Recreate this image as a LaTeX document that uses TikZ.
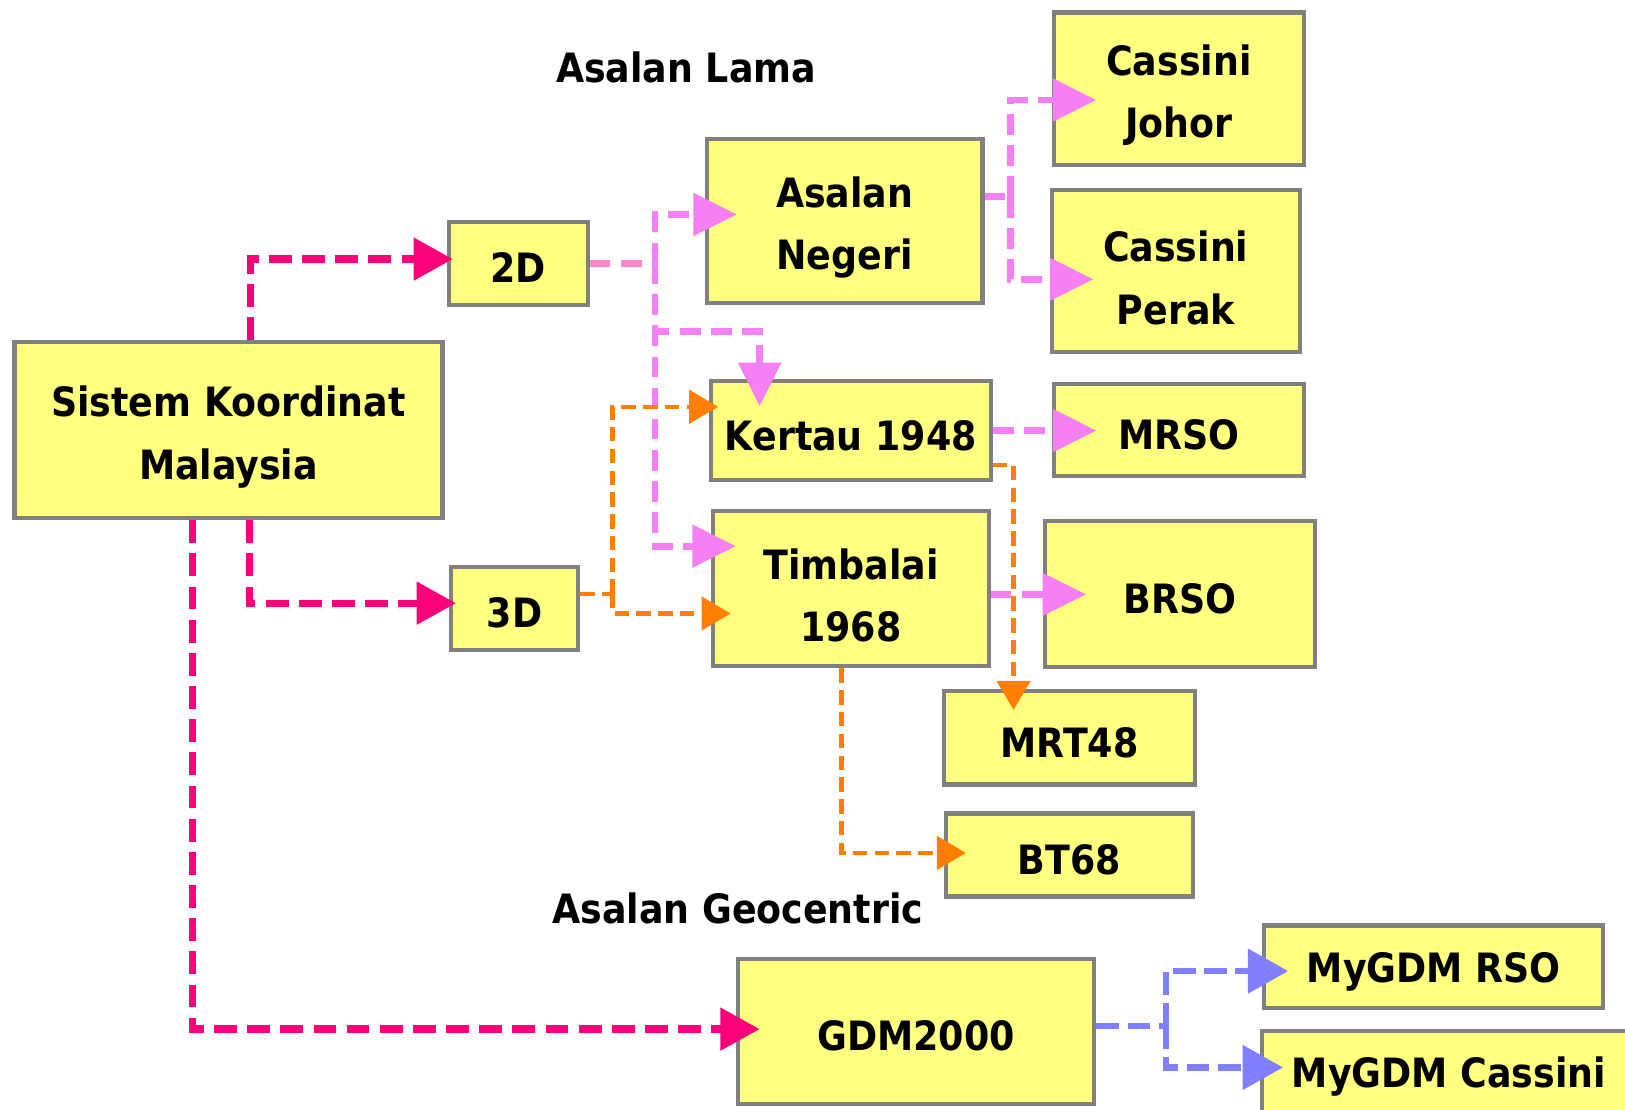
\documentclass[tikz,border=0pt]{standalone}
\usepackage{fontspec}
\setmainfont{DejaVu Sans Condensed}
\usetikzlibrary{arrows.meta,calc}

\definecolor{boxfill}{RGB}{255,255,128}
\definecolor{boxline}{RGB}{128,128,128}
\definecolor{mgc}{RGB}{250,0,122}
\definecolor{vic}{RGB}{245,128,245}
\definecolor{lpc}{RGB}{255,135,200}
\definecolor{ogc}{RGB}{255,128,0}
\definecolor{blc}{RGB}{128,128,255}

\tikzset{
  box/.style={draw=boxline, fill=boxfill, line width=2pt, inner sep=0pt, align=center,
    text height=19pt, font=\fontsize{19.5}{30}\selectfont\bfseries},
  twoline/.style={box, text height=51.5pt},
  lbl/.style={font=\fontsize{19.5}{30}\selectfont\bfseries},
  mg/.style={draw=mgc, line width=3.5pt, dash pattern=on 11pt off 5pt,
    -{Triangle[length=19pt,width=20pt]}},
  vi/.style={draw=vic, line width=3.3pt, dash pattern=on 10pt off 5pt,
    -{Triangle[length=21pt,width=20pt]}},
  og/.style={draw=ogc, line width=2pt, dash pattern=on 7pt off 3.5pt,
    -{Triangle[length=14pt,width=16pt]}},
  bl/.style={draw=blc, line width=3.2pt, dash pattern=on 11pt off 4pt,
    -{Triangle[length=19.5pt,width=21pt]}}
}

\begin{document}
\begin{tikzpicture}[x=0.5pt,y=-0.5pt]
\useasboundingbox (0,0) rectangle (1568,1071);
\clip (0,0) rectangle (1568,1071);

\node[lbl] (lama) at (662,65) {Asalan Lama};
\node[lbl] (geo) at (712,877) {Asalan Geocentric};

\node[twoline,minimum width=206.5pt,minimum height=85pt] (sistem) at (220.5,415) {Sistem Koordinat\\Malaysia};
\node[box,minimum width=67pt,minimum height=40pt] (d2) at (500,254) {2D};
\node[box,minimum width=61.5pt,minimum height=40pt] (d3) at (496.5,587) {3D};

\node[twoline,minimum width=133pt,minimum height=79pt] (asalan) at (815,213) {Asalan\\Negeri};
\node[box,minimum width=135pt,minimum height=47.5pt] (kertau) at (821,415.5) {Kertau 1948};
\node[twoline,minimum width=133pt,minimum height=75pt] (timbalai) at (821,568) {Timbalai\\1968};

\node[twoline,minimum width=120.5pt,minimum height=73.5pt] (johor) at (1137.5,85.5) {Cassini\\Johor};
\node[twoline,minimum width=119.5pt,minimum height=78.5pt] (perak) at (1134.5,261.5) {Cassini\\Perak};
\node[box,minimum width=120.5pt,minimum height=44.5pt] (mrso) at (1137.5,415) {MRSO};
\node[box,minimum width=130.5pt,minimum height=70.5pt] (brso) at (1138.5,573.5) {BRSO};
\node[box,minimum width=121pt,minimum height=45pt] (mrt) at (1032,712) {MRT48};
\node[box,minimum width=119pt,minimum height=40pt] (bt) at (1032,825) {BT68};

\node[box,minimum width=172pt,minimum height=70pt] (gdm) at (884,995) {GDM2000};
\node[box,minimum width=163.5pt,minimum height=40pt] (rso) at (1383.5,933) {MyGDM RSO};
\node[box,minimum width=180pt,minimum height=40pt] (cassini) at (1398,1035) {MyGDM Cassini};

% Sistem Koordinat Malaysia
\draw[mg] ($(sistem.north)+(21,0)$) |- ($(d2.west)+(6,-4)$);
\draw[mg] ($(sistem.south)+(20,0)$) |- ($(d3.west)+(7,-5)$);
\draw[mg] ($(sistem.south)+(-35,0)$) |- ($(gdm.west)+(23,-2)$);

% 2D
\coordinate (j2) at (632,254);
\draw[vi,-,draw=lpc] (d2.east |- j2) -- (j2);
\draw[vi] (j2) |- ($(asalan.west)+(31,-6)$);
\draw[vi] (j2) |- ($(kertau.north)+(-88,-46)$) -- ($(kertau.north)+(-88,26)$);
\draw[vi] (j2) |- ($(timbalai.west)+(24,-41)$);

% 3D
\coordinate (j3) at (591,573);
\draw[og,-] ($(d3.east)+(0,-14)$) -- (j3);
\draw[og] (j3) |- ($(kertau.west)+(9,-23)$);
\draw[og] (j3) |- ($(timbalai.west)+(19,24)$);

% Asalan Negeri
\coordinate (ja) at (975,190);
\draw[vi,-] ($(asalan.east)+(0,-23)$) -- (ja);
\draw[vi] (ja) |- ($(johor.west)+(43,11)$);
\draw[vi] (ja) |- ($(perak.west)+(42,8)$);

% Kertau 1948, Timbalai 1968
\draw[vi] (kertau.east) -- ($(kertau.east -| mrso.west)+(43,0)$);
\draw[og] ($(kertau.east)+(0,33)$) -| ($(mrt.north)+(-54,20)$);
\draw[vi] (timbalai.east |- brso.west) -- ($(brso.west)+(42,0)$);
\draw[og] ($(timbalai.south)+(-9,0)$) |- ($(bt.west)+(21,-2)$);

% GDM2000
\coordinate (jg) at (1125,990);
\draw[bl,-] ($(gdm.east)+(0,-5)$) -- (jg);
\draw[bl] (jg) |- ($(rso.west)+(25,4)$);
\draw[bl] (jg) |- ($(cassini.west)+(22,-5)$);
\end{tikzpicture}
\end{document}
